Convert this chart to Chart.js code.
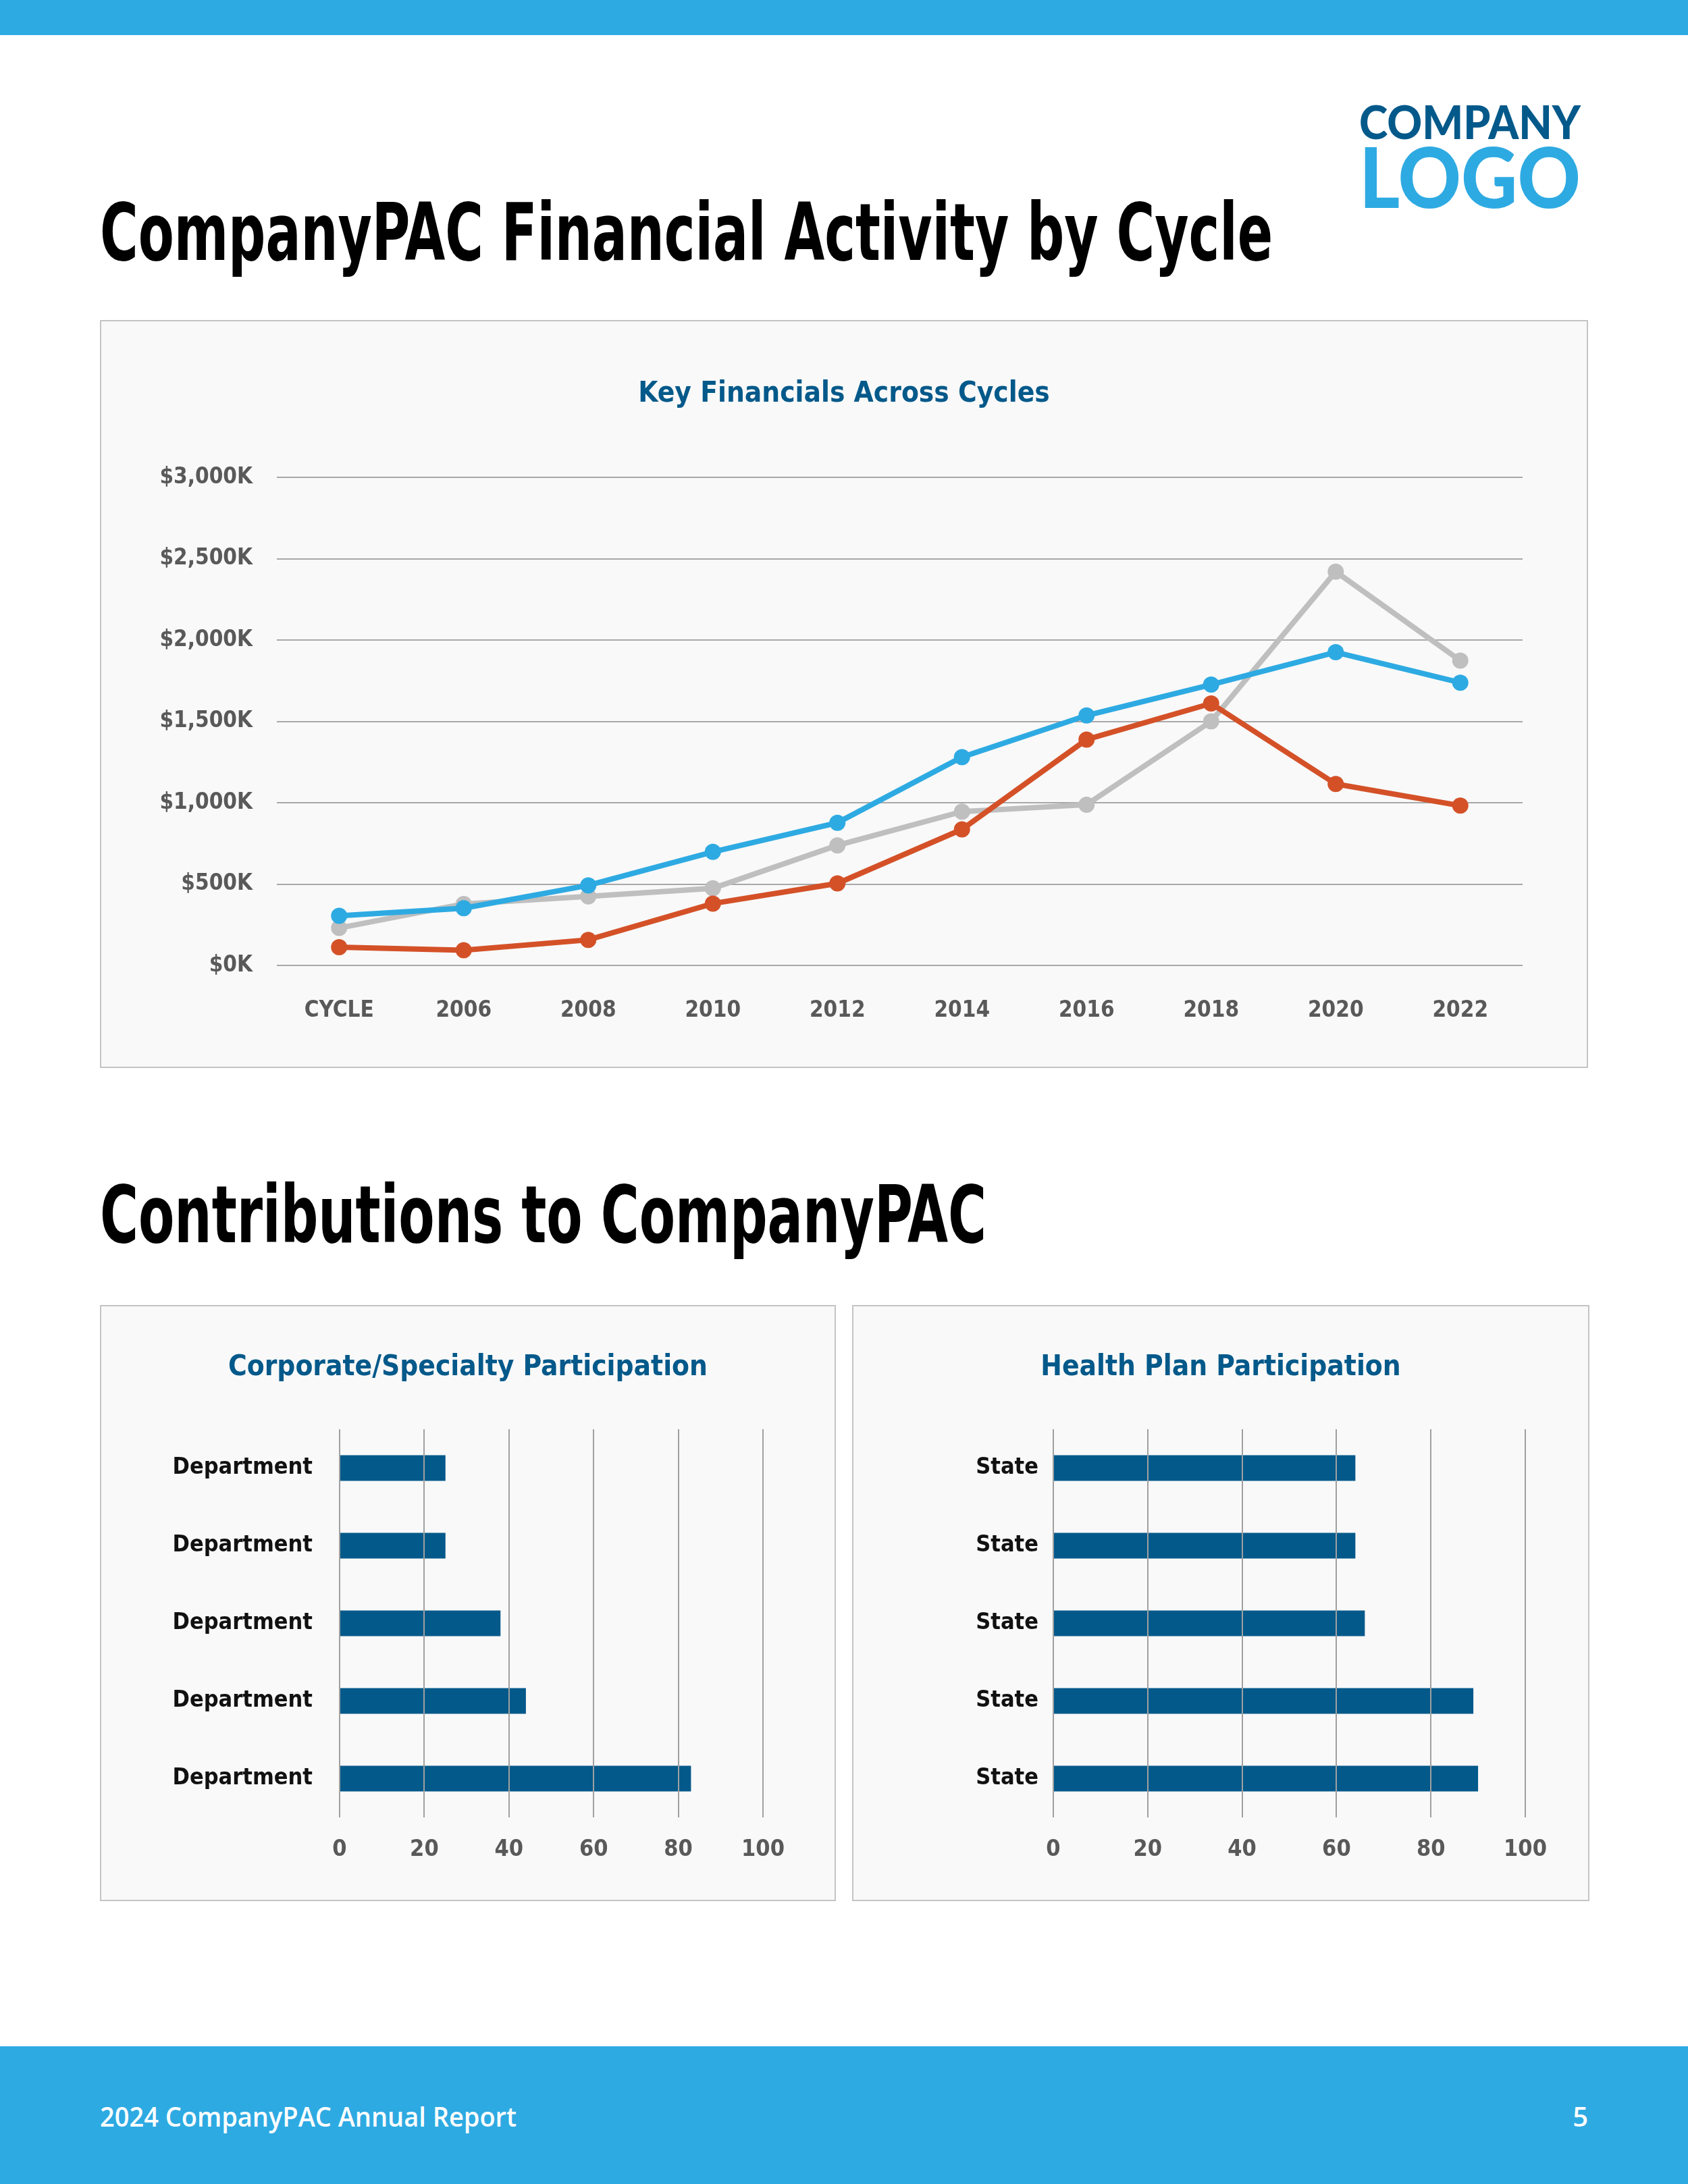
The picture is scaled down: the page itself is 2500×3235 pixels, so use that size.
<!DOCTYPE html>
<html>
<head>
<meta charset="utf-8">
<title>CompanyPAC Financial Activity</title>
<script src="https://cdn.jsdelivr.net/npm/chart.js@4.4.1/dist/chart.umd.min.js"></script>
<style>
    html, body { margin: 0; padding: 0; }
    body {
        width: 2500px; height: 3235px; position: relative; overflow: hidden;
        background: #ffffff;
        font-family: "Liberation Sans Narrow", "DejaVu Sans Condensed", "Roboto", sans-serif;
    }
    .band { position: absolute; left: 0; width: 2500px; background: #2eaae2; }
    .fit { position: absolute; white-space: nowrap; transform-origin: 0 0; line-height: 1; }
    .heading { font-weight: 700; font-size: 118px; color: #000; }
    .logo { font-family: "Lato", "Open Sans", sans-serif; font-weight: 900; }
    .foot { font-family: "Open Sans", "Noto Sans", sans-serif; font-weight: 600; font-size: 40px; color: #fff; }
    .panel {
        position: absolute; box-sizing: border-box;
        background: #f9f9f9; border: 2px solid #c4c4c4;
    }
    .chart-title {
        position: absolute; left: 0; width: 100%; text-align: center;
        font-weight: 700; font-size: 42px; line-height: 50px; color: #03598a;
    }
</style>
</head>
<body>
<div class="band" style="top:0;height:52px;"></div>

<div class="fit logo" id="logoTop" data-w="328" style="left:2013px;top:146px;font-size:68px;color:#03598a;">COMPANY</div>
<div class="fit logo" id="logoBottom" data-w="328" style="left:2013px;top:198px;font-size:124px;color:#2eaae2;">LOGO</div>

<div class="fit heading" data-w="1737" style="left:148px;top:285px;">CompanyPAC Financial Activity by Cycle</div>

<div class="panel" style="left:148px;top:474px;width:2204px;height:1108px;">
    <div class="chart-title" style="top:80px;">Key Financials Across Cycles</div>
    <canvas id="chartCycles"></canvas>
</div>

<div class="fit heading" data-w="1313" style="left:148px;top:1740px;">Contributions to CompanyPAC</div>

<div class="panel" style="left:148px;top:1933px;width:1090px;height:883px;">
    <div class="chart-title" style="top:63px;">Corporate/Specialty Participation</div>
    <canvas id="chartCorporate"></canvas>
</div>
<div class="panel" style="left:1262px;top:1933px;width:1092px;height:883px;">
    <div class="chart-title" style="top:63px;">Health Plan Participation</div>
    <canvas id="chartHealth"></canvas>
</div>

<div class="band" style="top:3031px;height:204px;"></div>
<div class="fit foot" data-w="617" style="left:148px;top:3115px;">2024 CompanyPAC Annual Report</div>
<div class="foot" style="position:absolute;right:148px;top:3115px;line-height:1;">5</div>

<script>
// Datos del grafico de lineas (miles de dolares por ciclo)
const cycles = ['CYCLE', '2006', '2008', '2010', '2012', '2014', '2016', '2018', '2020', '2022'];
const seriesBlue = [305, 352, 492, 698, 877, 1280, 1536, 1726, 1925, 1738];
const seriesOrange = [112, 93, 157, 380, 504, 836, 1388, 1610, 1115, 982];
const seriesGrey = [230, 378, 424, 474, 738, 945, 988, 1500, 2420, 1873];
const yTicksK = [0, 500, 1000, 1500, 2000, 2500, 3000];

// Participacion por area
const corporateLabels = ['Department', 'Department', 'Department', 'Department', 'Department'];
const corporateValues = [25, 25, 38, 44, 83];
const healthLabels = ['State', 'State', 'State', 'State', 'State'];
const healthValues = [64, 64, 66, 89, 90];
const pctTicks = [0, 20, 40, 60, 80, 100];

const FONT = '"Liberation Sans Narrow", "DejaVu Sans Condensed", "Roboto", sans-serif';
const DARK_BLUE = '#03598a';
const TICK_GREY = '#595959';

Chart.defaults.font.family = FONT;
Chart.defaults.devicePixelRatio = 1;
Chart.defaults.animation = false;

// Ajusta el ancho del texto al de la referencia
function fitWidths() {
    document.querySelectorAll('.fit').forEach(el => {
        const target = parseFloat(el.dataset.w);
        const w = el.getBoundingClientRect().width;
        if (w > 0) el.style.transform = 'scaleX(' + (target / w) + ')';
    });
}

function renderChartCycles() {
    const ctx = document.getElementById('chartCycles').getContext('2d');
    const line = (data, color, order) => ({
        data: data,
        borderColor: color,
        backgroundColor: color,
        borderWidth: 8,
        pointRadius: 12,
        pointBorderWidth: 0,
        pointHoverRadius: 12,
        tension: 0,
        order: order
    });
    new Chart(ctx, {
        type: 'line',
        data: {
            labels: cycles,
            datasets: [
                line(seriesBlue, '#2eaae2', 0),
                line(seriesOrange, '#d45128', 1),
                line(seriesGrey, '#bfbfbf', 2)
            ]
        },
        options: {
            responsive: true,
            maintainAspectRatio: false,
            layout: { padding: { top: 231, right: 95, bottom: 0, left: 0 } },
            plugins: {
                legend: { display: false },
                tooltip: { enabled: false },
                title: { display: false }
            },
            scales: {
                x: {
                    offset: true,
                    grid: { display: false },
                    border: { display: false },
                    ticks: { color: TICK_GREY, font: { size: 33, weight: 'bold' }, padding: 40, maxRotation: 0 },
                    afterFit: s => { s.height = 150; }
                },
                y: {
                    min: 0,
                    max: 3000,
                    afterBuildTicks: s => { s.ticks = yTicksK.map(v => ({ value: v })); },
                    ticks: {
                        color: TICK_GREY,
                        font: { size: 33, weight: 'bold' },
                        padding: 36,
                        callback: v => '$' + v.toLocaleString('en-US') + 'K'
                    },
                    grid: { color: '#a8a8a8', lineWidth: 2, drawTicks: false },
                    border: { display: false },
                    afterFit: s => { s.width = 260; }
                }
            }
        }
    });
}

function renderChartBars(id, labels, values, yWidth, labelPad, rightPad) {
    const ctx = document.getElementById(id).getContext('2d');
    new Chart(ctx, {
        type: 'bar',
        data: {
            labels: labels,
            datasets: [{
                data: values,
                backgroundColor: DARK_BLUE,
                borderWidth: 0,
                barPercentage: 0.33,
                categoryPercentage: 1
            }]
        },
        options: {
            indexAxis: 'y',
            responsive: true,
            maintainAspectRatio: false,
            layout: { padding: { top: 182, right: rightPad, bottom: 0, left: 0 } },
            plugins: {
                legend: { display: false },
                tooltip: { enabled: false },
                title: { display: false }
            },
            scales: {
                x: {
                    min: 0,
                    max: 100,
                    afterBuildTicks: s => { s.ticks = pctTicks.map(v => ({ value: v })); },
                    ticks: { color: TICK_GREY, font: { size: 34, weight: 'bold' }, padding: 28 },
                    grid: { color: '#a0a0a0', lineWidth: 2, drawTicks: false, z: 1 },
                    border: { display: false },
                    afterFit: s => { s.height = 122; }
                },
                y: {
                    grid: { display: false },
                    border: { display: false },
                    ticks: { color: '#111111', font: { size: 34, weight: 'bold' }, padding: labelPad },
                    afterFit: s => { s.width = yWidth; }
                }
            }
        }
    });
}

function start() {
    fitWidths();
    renderChartCycles();
    renderChartBars('chartCorporate', corporateLabels, corporateValues, 353, 32, 106);
    renderChartBars('chartHealth', healthLabels, healthValues, 296, 14, 93);
}

if (document.fonts && document.fonts.ready) {
    document.fonts.ready.then(start);
} else {
    start();
}
</script>
</body>
</html>
